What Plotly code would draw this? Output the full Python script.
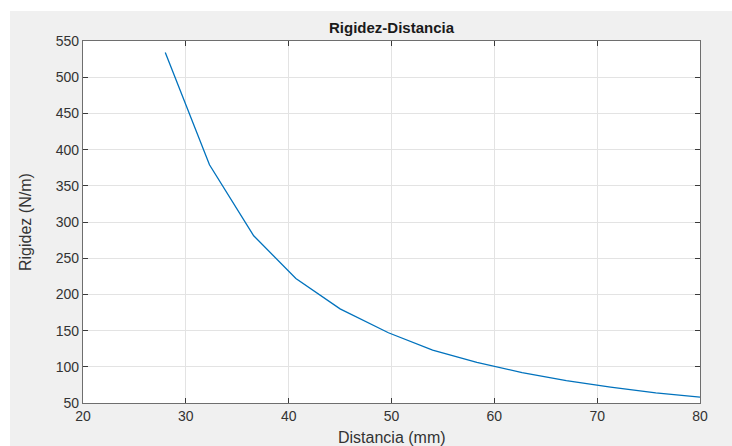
import plotly.graph_objects as go

distancia = [28.0, 32.3, 36.6, 40.7, 45.0, 49.7, 54.0, 58.3, 62.7, 67.0, 71.3, 75.7, 80.0]
rigidez = [534, 379, 281, 222, 180, 147, 123, 106, 92, 81, 72, 64, 58]
x_ticks = [20, 30, 40, 50, 60, 70, 80]
y_ticks = [50, 100, 150, 200, 250, 300, 350, 400, 450, 500, 550]

W, H = 732, 446
L, R, T, B = 83, 32, 41, 42.5
pw, ph = W - L - R, H - T - B

fig = go.Figure()
fig.add_trace(go.Scatter(x=distancia, y=rigidez, mode="lines",
                         line=dict(color="#0072BD", width=1.3), showlegend=False))

font = "Liberation Sans, Arial, Helvetica, sans-serif"
axis_common = dict(
    showgrid=True, gridcolor="#e3e3e3", gridwidth=1,
    showline=True, linecolor="#6e6e6e", linewidth=1.3, mirror="ticks",
    ticks="inside", ticklen=5, tickcolor="#3a3a3a", tickwidth=1,
    tickfont=dict(family=font, size=14, color="#333333"),
    zeroline=False,
)

fig.update_layout(
    width=W, height=H,
    margin=dict(l=L, r=R, t=T, b=B, pad=0),
    paper_bgcolor="#f0f0f0", plot_bgcolor="white",
    title=dict(text="<b>Rigidez-Distancia</b>", x=(L + pw / 2) / W, xanchor="center",
               y=1 - 28 / H, yanchor="middle", yref="container",
               font=dict(family=font, size=15, color="#1a1a1a")),
    xaxis=dict(range=[20, 80], tickvals=x_ticks, **axis_common),
    yaxis=dict(range=[50, 550], tickvals=y_ticks, **axis_common),
    annotations=[
        dict(text="Distancia (mm)", xref="paper", yref="paper",
             x=0.5, y=(H - 438 - B) / ph, xanchor="center", yanchor="middle",
             showarrow=False, font=dict(family=font, size=16, color="#333333")),
        dict(text="Rigidez (N/m)", xref="paper", yref="paper", textangle=-90,
             x=(25 - L) / pw, y=0.5, xanchor="center", yanchor="middle",
             showarrow=False, font=dict(family=font, size=16, color="#333333")),
    ],
    shapes=[
        dict(type="rect", xref="paper", yref="paper", layer="below",
             x0=-L / pw - 0.01, x1=(W - L) / pw + 0.01, y0=(H - 11 - B) / ph, y1=(H - B) / ph + 0.01,
             fillcolor="white", line=dict(width=0)),
        dict(type="rect", xref="paper", yref="paper", layer="below",
             x0=-L / pw - 0.01, x1=(10 - L) / pw, y0=-B / ph - 0.01, y1=(H - B) / ph + 0.01,
             fillcolor="white", line=dict(width=0)),
    ],
)

fig.write_html(
    "out.html",
    config={"displayModeBar": False},
    post_script=(
        "document.body.style.margin='0';"
        "document.body.style.overflow='hidden';"
        "document.body.style.background='#f0f0f0';"
        "document.documentElement.style.background='#f0f0f0';"
    ),
)
